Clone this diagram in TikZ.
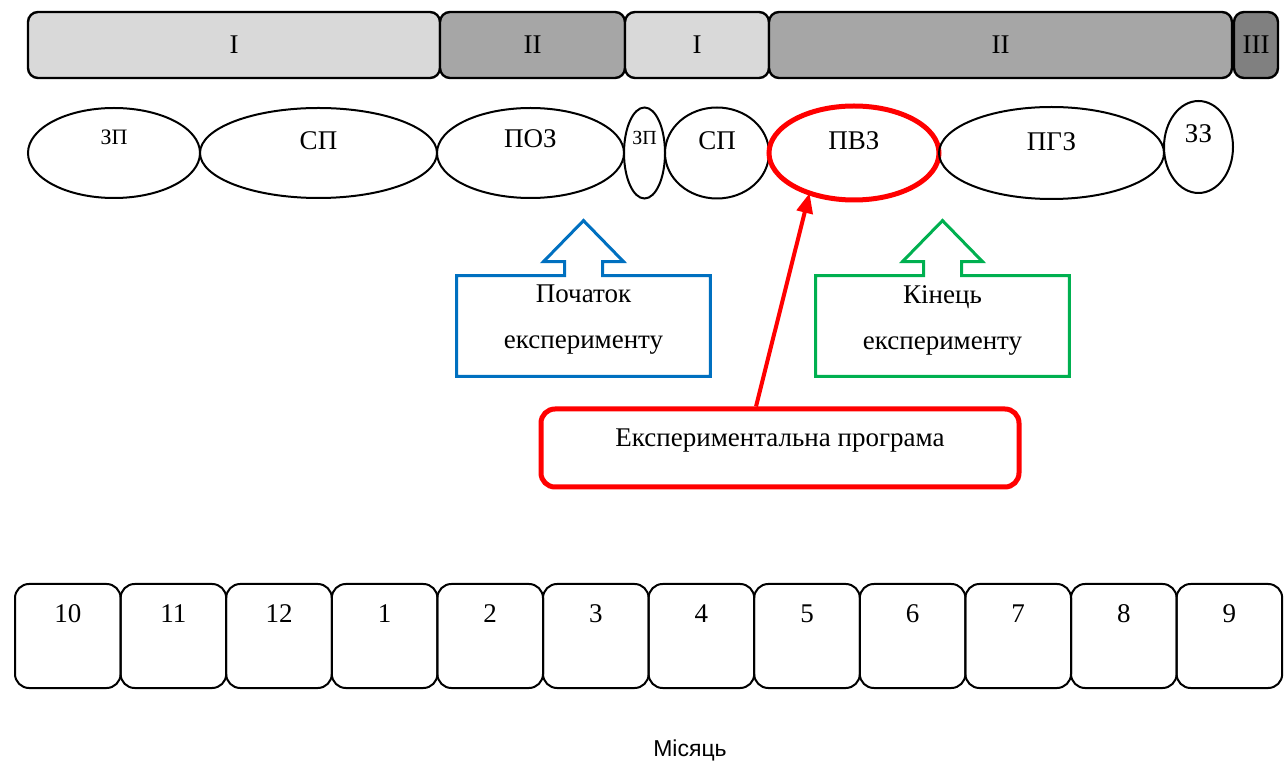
\documentclass[tikz,border=0pt]{standalone}
\usepackage{fontspec}
\setmainfont{Liberation Serif}
\newfontfamily\axissans{Liberation Sans}
\usetikzlibrary{shapes.geometric, arrows.meta, positioning}

\definecolor{lightgrey}{HTML}{D9D9D9}
\definecolor{midgrey}{HTML}{A6A6A6}
\definecolor{darkgrey}{HTML}{808080}
\definecolor{startblue}{HTML}{0070C0}
\definecolor{endgreen}{HTML}{00B050}

\begin{document}
\begin{tikzpicture}[
    x=0.5pt, y=-0.5pt,
    font=\fontsize{13.5}{16}\selectfont,
    bar/.style={rectangle, draw, line width=1.2pt, rounded corners=5pt, minimum height=33pt, inner sep=0pt, outer sep=0pt},
    phase/.style={ellipse, draw, line width=1pt, inner sep=0pt, outer sep=0pt, minimum height=45pt},
    callout/.style={line width=1.5pt, line join=miter},
    month/.style={rectangle, draw, line width=1pt, rounded corners=7pt, minimum width=52.8pt, minimum height=52pt, inner sep=0pt},
    arrow/.style={-{Triangle[length=10pt, width=8pt]}, line width=2pt, red}
]
\useasboundingbox (0,0) rectangle (1286,764);

% Stages
\node[bar, fill=lightgrey, minimum width=206pt] (bar1) at (234,45) {I};
\node[bar, fill=midgrey, minimum width=92.5pt, right=0pt of bar1] (bar2) {II};
\node[bar, fill=lightgrey, minimum width=72pt, right=0pt of bar2] (bar3) {I};
\node[bar, fill=midgrey, minimum width=231.5pt, right=0pt of bar3] (bar4) {II};
\node[bar, fill=darkgrey, minimum width=22pt, right=1pt of bar4] (bar5) {III};

% Periods
\node[phase, minimum width=86pt, label={[yshift=8pt, font=\fontsize{11}{13}\selectfont]center:ЗП}] (zp1) at (114,153) {};
\node[phase, minimum width=118.5pt, right=0pt of zp1, label={[yshift=6pt]center:СП}] (sp1) {};
\node[phase, minimum width=93.5pt, right=0pt of sp1, label={[yshift=7pt]center:ПОЗ}] (poz) {};
\node[phase, minimum width=20.5pt, minimum height=45.5pt, right=0pt of poz, label={[yshift=7.5pt, font=\fontsize{10}{12}\selectfont]center:ЗП}] (zp2) {};
\node[phase, minimum width=52pt, minimum height=45.5pt, right=0pt of zp2, label={[yshift=6pt]center:СП}] (sp2) {};
\node[phase, draw=red, line width=2.5pt, minimum width=85pt, minimum height=47pt, right=0pt of sp2, label={[yshift=6pt]center:ПВЗ}] (pvz) {};
\node[phase, minimum width=112.5pt, minimum height=46pt, right=0pt of pvz, label={[yshift=5.5pt]center:ПГЗ}] (pgz) {};
\node[phase, minimum width=34.5pt, minimum height=46pt, right=0pt of pgz, yshift=3pt, label={[yshift=6.5pt]center:ЗЗ}] (zz) {};

% Start and end of the experiment
\node[minimum width=126.5pt, minimum height=50pt, inner sep=0pt, label={[align=center, yshift=3pt]center:Початок\\[7pt]експерименту}] (start) at (583.5,326) {};
\node[minimum width=126.5pt, minimum height=50pt, inner sep=0pt, label={[align=center, yshift=3pt]center:Кінець\\[7pt]експерименту}] (finish) at (942.5,326) {};
\draw[callout, startblue] (start.north west) -- ([xshift=-9.5pt]start.north) -- ++(0,7pt) -- ++(-10.5pt,0)
    -- ++(20pt,20.5pt) -- ++(20pt,-20.5pt) -- ++(-10.5pt,0) -- ++(0,-7pt)
    -- (start.north east) -- (start.south east) -- (start.south west) -- cycle;
\draw[callout, endgreen] (finish.north west) -- ([xshift=-9.5pt]finish.north) -- ++(0,7pt) -- ++(-10.5pt,0)
    -- ++(20pt,20.5pt) -- ++(20pt,-20.5pt) -- ++(-10.5pt,0) -- ++(0,-7pt)
    -- (finish.north east) -- (finish.south east) -- (finish.south west) -- cycle;

% Experimental programme
\node[draw=red, line width=2.5pt, rounded corners=7pt, minimum width=239pt, minimum height=39pt, inner sep=0pt, label={[yshift=3.5pt]center:Експериментальна програма}] (prog) at (780,448) {};
\draw[arrow] ([xshift=-12pt]prog.north) -- (pvz.222);

% Months
\foreach \m [count=\i] in {10,11,12,1,2,3,4,5,6,7,8,9}
  \node[month, label={[yshift=11pt]center:\m}] (m\i) at ({15+105.6*(\i-0.5)},636) {};
\node[font=\axissans\fontsize{11.5}{13}\selectfont] (axis) at (690,750) {Місяць};

\end{tikzpicture}
\end{document}
